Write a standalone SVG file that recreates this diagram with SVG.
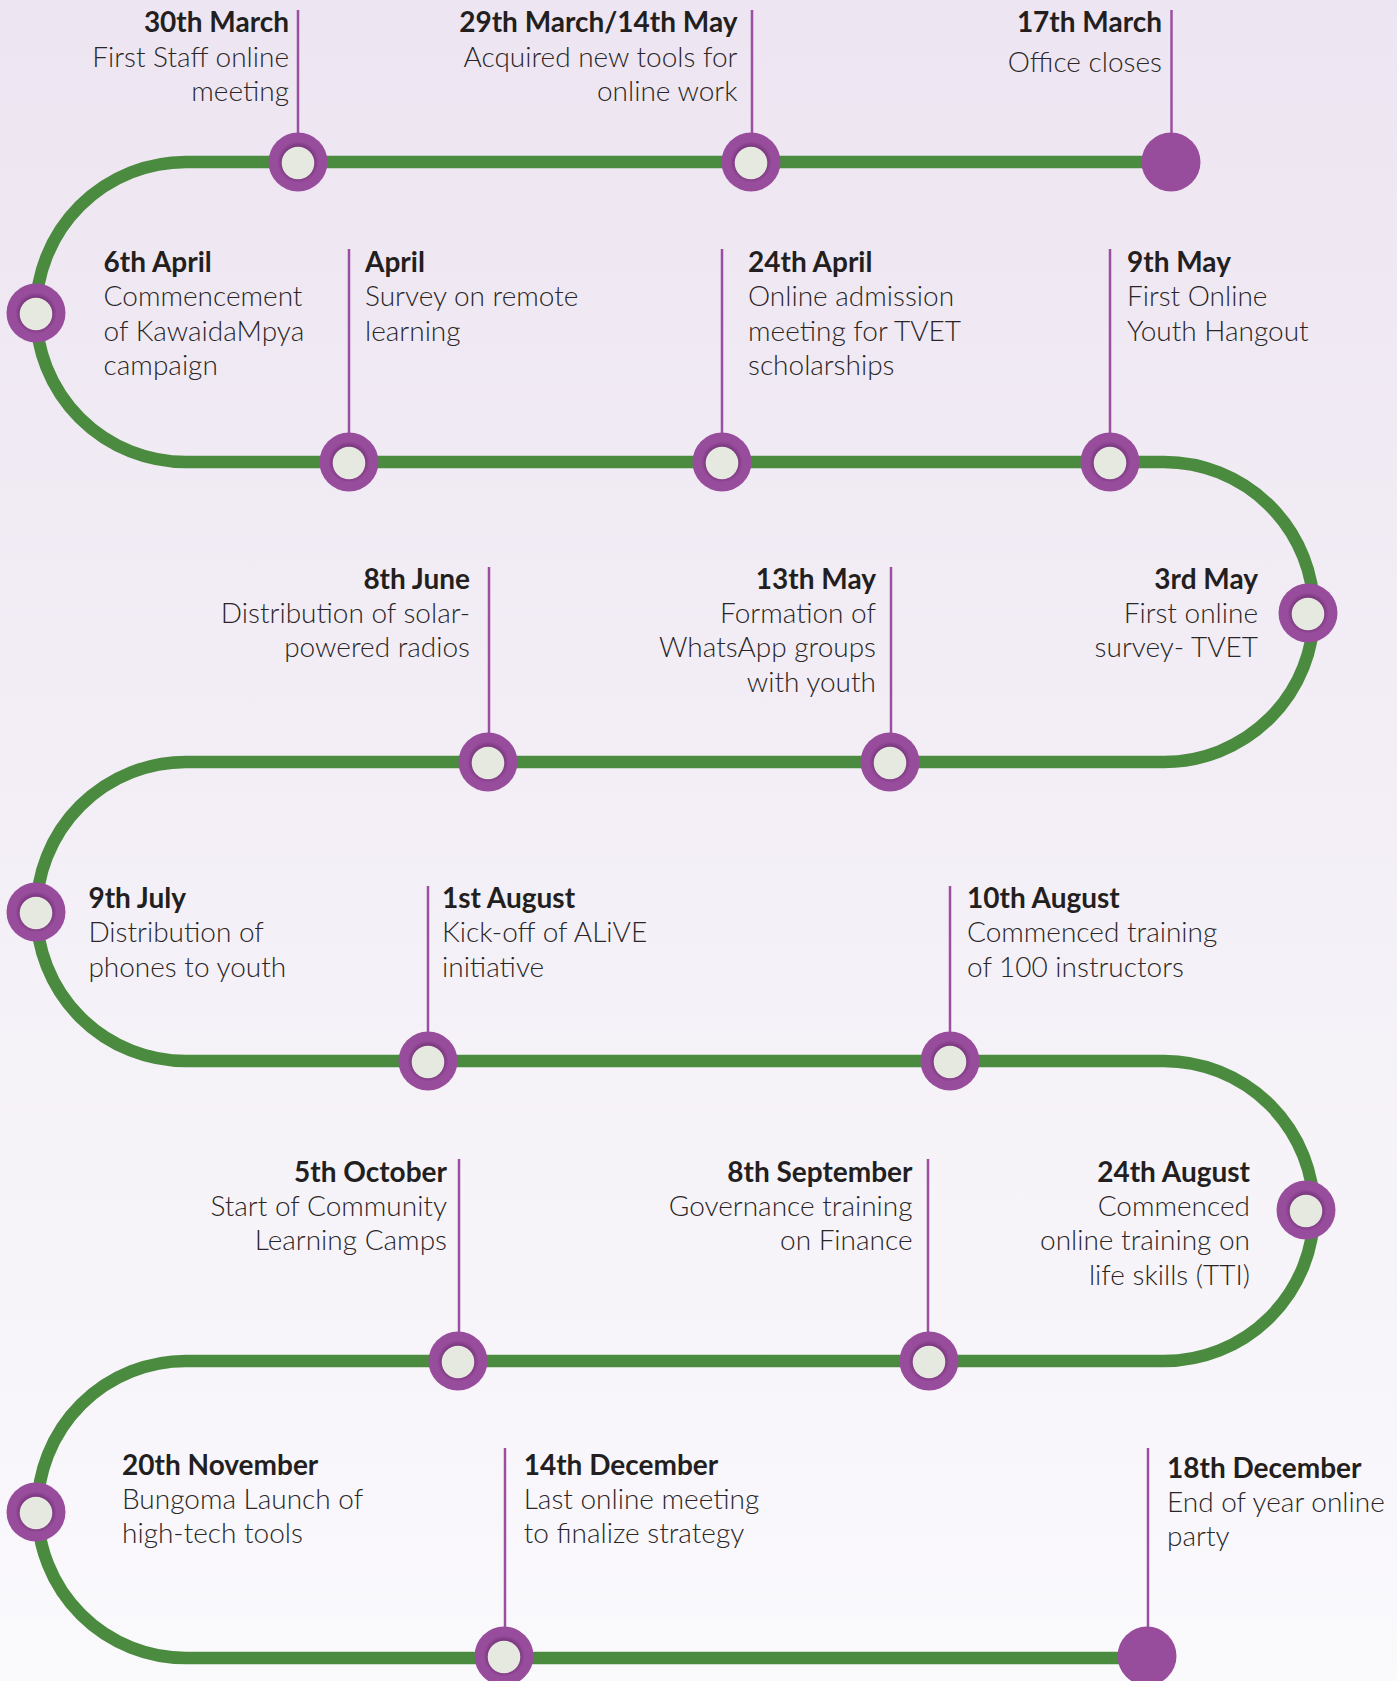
<svg xmlns="http://www.w3.org/2000/svg" width="1397" height="1681" viewBox="0 0 1397 1681">
  <defs>
    <linearGradient id="bg" x1="0" y1="0" x2="0" y2="1">
      <stop offset="0" stop-color="#ede5f1"/>
      <stop offset="1" stop-color="#faf9fc"/>
    </linearGradient>
    <radialGradient id="ringGrad" cx="0.5" cy="0.5" r="0.5">
      <stop offset="0.52" stop-color="#77367c"/>
      <stop offset="0.70" stop-color="#984c9c"/>
      <stop offset="1" stop-color="#984c9c"/>
    </radialGradient>
    <style>
      .track { fill: none; stroke: #4b8b3f; stroke-width: 12.5; }
      .conn { stroke: #9a4fa0; stroke-width: 2.5; }
      .outer { fill: url(#ringGrad); }
      .inner { fill: #e6e9df; }
      .solid { fill: #984c9c; }
      text { font-family: "Lato", "Open Sans", "Liberation Sans", sans-serif; font-size: 28px; fill: #2a2627; }
      .t { font-weight: 700; fill: #231f20; }
      .b { font-weight: 300; }
      .r { text-anchor: end; }
    </style>
  </defs>
  <rect x="0" y="0" width="1397" height="1681" fill="url(#bg)"/>

  <g id="connectors">
    <path class="track" d="M 1171 162 H 186 A 150 150 0 0 0 186 462 H 1164 A 150 150 0 0 1 1164 762 H 186 A 149.5 149.5 0 0 0 186 1061 H 1164 A 150 150 0 0 1 1164 1361 H 186 A 148.5 148.5 0 0 0 186 1658 H 1147"/>
    <line class="conn" x1="298" y1="10" x2="298" y2="162"/>
    <line class="conn" x1="752" y1="10" x2="752" y2="162"/>
    <line class="conn" x1="1171.5" y1="10" x2="1171.5" y2="162"/>
    <line class="conn" x1="349" y1="249" x2="349" y2="462"/>
    <line class="conn" x1="722" y1="249" x2="722" y2="462"/>
    <line class="conn" x1="1110" y1="249" x2="1110" y2="462"/>
    <line class="conn" x1="489" y1="567" x2="489" y2="762"/>
    <line class="conn" x1="891" y1="567" x2="891" y2="762"/>
    <line class="conn" x1="428" y1="886" x2="428" y2="1061"/>
    <line class="conn" x1="950" y1="886" x2="950" y2="1061"/>
    <line class="conn" x1="459" y1="1159" x2="459" y2="1361"/>
    <line class="conn" x1="928" y1="1159" x2="928" y2="1361"/>
    <line class="conn" x1="505" y1="1448" x2="505" y2="1657"/>
    <line class="conn" x1="1148" y1="1448" x2="1148" y2="1657"/>
  </g>

  <g id="n-17mar">
    <circle class="solid" cx="1171" cy="162" r="29.5"/>
    <text class="t r" x="1162" y="32">17th March</text>
    <text class="b r" x="1162" y="72">Office closes</text>
  </g>
  <g id="n-29mar">
    <circle class="outer" cx="751" cy="162" r="29.5"/><circle class="inner" cx="751" cy="163" r="16.3"/>
    <text class="t r" x="737.5" y="32">29th March/14th May</text>
    <text class="b r" x="737.5" y="67">Acquired new tools for</text>
    <text class="b r" x="737.5" y="101">online work</text>
  </g>
  <g id="n-30mar">
    <circle class="outer" cx="298" cy="162" r="29.5"/><circle class="inner" cx="298" cy="163" r="16.3"/>
    <text class="t r" x="289" y="32">30th March</text>
    <text class="b r" x="289" y="67">First Staff online</text>
    <text class="b r" x="289" y="101">meeting</text>
  </g>
  <g id="n-6apr">
    <circle class="outer" cx="36" cy="313" r="29.5"/><circle class="inner" cx="36" cy="314" r="16.3"/>
    <text class="t" x="103.6" y="272">6th April</text>
    <text class="b" x="103.6" y="306">Commencement</text>
    <text class="b" x="103.6" y="341">of KawaidaMpya</text>
    <text class="b" x="103.6" y="375">campaign</text>
  </g>
  <g id="n-apr">
    <circle class="outer" cx="349" cy="462" r="29.5"/><circle class="inner" cx="349" cy="463" r="16.3"/>
    <text class="t" x="365" y="272">April</text>
    <text class="b" x="365" y="306">Survey on remote</text>
    <text class="b" x="365" y="341">learning</text>
  </g>
  <g id="n-24apr">
    <circle class="outer" cx="722" cy="462" r="29.5"/><circle class="inner" cx="722" cy="463" r="16.3"/>
    <text class="t" x="748" y="272">24th April</text>
    <text class="b" x="748" y="306">Online admission</text>
    <text class="b" x="748" y="341">meeting for TVET</text>
    <text class="b" x="748" y="375">scholarships</text>
  </g>
  <g id="n-9may">
    <circle class="outer" cx="1110" cy="462" r="29.5"/><circle class="inner" cx="1110" cy="463" r="16.3"/>
    <text class="t" x="1127" y="272">9th May</text>
    <text class="b" x="1127" y="306">First Online</text>
    <text class="b" x="1127" y="341">Youth Hangout</text>
  </g>
  <g id="n-3may">
    <circle class="outer" cx="1308" cy="613" r="29.5"/><circle class="inner" cx="1308" cy="614" r="16.3"/>
    <text class="t r" x="1258" y="589">3rd May</text>
    <text class="b r" x="1258" y="623">First online</text>
    <text class="b r" x="1258" y="657">survey- TVET</text>
  </g>
  <g id="n-13may">
    <circle class="outer" cx="890" cy="762" r="29.5"/><circle class="inner" cx="890" cy="763" r="16.3"/>
    <text class="t r" x="876" y="589">13th May</text>
    <text class="b r" x="876" y="623">Formation of</text>
    <text class="b r" x="876" y="657">WhatsApp groups</text>
    <text class="b r" x="876" y="692">with youth</text>
  </g>
  <g id="n-8jun">
    <circle class="outer" cx="488" cy="762" r="29.5"/><circle class="inner" cx="488" cy="763" r="16.3"/>
    <text class="t r" x="470" y="589">8th June</text>
    <text class="b r" x="470" y="623">Distribution of solar-</text>
    <text class="b r" x="470" y="657">powered radios</text>
  </g>
  <g id="n-9jul">
    <circle class="outer" cx="36" cy="912" r="29.5"/><circle class="inner" cx="36" cy="913" r="16.3"/>
    <text class="t" x="88.4" y="908">9th July</text>
    <text class="b" x="88.4" y="942">Distribution of</text>
    <text class="b" x="88.4" y="977">phones to youth</text>
  </g>
  <g id="n-1aug">
    <circle class="outer" cx="428" cy="1061" r="29.5"/><circle class="inner" cx="428" cy="1062" r="16.3"/>
    <text class="t" x="442" y="908">1st August</text>
    <text class="b" x="442" y="942">Kick-off of ALiVE</text>
    <text class="b" x="442" y="977">initiative</text>
  </g>
  <g id="n-10aug">
    <circle class="outer" cx="950" cy="1061" r="29.5"/><circle class="inner" cx="950" cy="1062" r="16.3"/>
    <text class="t" x="967" y="908">10th August</text>
    <text class="b" x="967" y="942">Commenced training</text>
    <text class="b" x="967" y="977">of 100 instructors</text>
  </g>
  <g id="n-24aug">
    <circle class="outer" cx="1306" cy="1210" r="29.5"/><circle class="inner" cx="1306" cy="1211" r="16.3"/>
    <text class="t r" x="1250" y="1182">24th August</text>
    <text class="b r" x="1250" y="1216">Commenced</text>
    <text class="b r" x="1250" y="1250">online training on</text>
    <text class="b r" x="1250" y="1285">life skills (TTI)</text>
  </g>
  <g id="n-8sep">
    <circle class="outer" cx="929" cy="1361" r="29.5"/><circle class="inner" cx="929" cy="1362" r="16.3"/>
    <text class="t r" x="912.5" y="1182">8th September</text>
    <text class="b r" x="912.5" y="1216">Governance training</text>
    <text class="b r" x="912.5" y="1250">on Finance</text>
  </g>
  <g id="n-5oct">
    <circle class="outer" cx="458" cy="1361" r="29.5"/><circle class="inner" cx="458" cy="1362" r="16.3"/>
    <text class="t r" x="447" y="1182">5th October</text>
    <text class="b r" x="447" y="1216">Start of Community</text>
    <text class="b r" x="447" y="1250">Learning Camps</text>
  </g>
  <g id="n-20nov">
    <circle class="outer" cx="36" cy="1512" r="29.5"/><circle class="inner" cx="36" cy="1513" r="16.3"/>
    <text class="t" x="122" y="1475">20th November</text>
    <text class="b" x="122" y="1509">Bungoma Launch of</text>
    <text class="b" x="122" y="1543">high-tech tools</text>
  </g>
  <g id="n-14dec">
    <circle class="outer" cx="504" cy="1656" r="29.5"/><circle class="inner" cx="504" cy="1657" r="16.3"/>
    <text class="t" x="523.7" y="1475">14th December</text>
    <text class="b" x="523.7" y="1509">Last online meeting</text>
    <text class="b" x="523.7" y="1543">to finalize strategy</text>
  </g>
  <g id="n-18dec">
    <circle class="solid" cx="1147" cy="1656" r="29.5"/>
    <text class="t" x="1167" y="1478">18th December</text>
    <text class="b" x="1167" y="1512">End of year online</text>
    <text class="b" x="1167" y="1546">party</text>
  </g>
</svg>
